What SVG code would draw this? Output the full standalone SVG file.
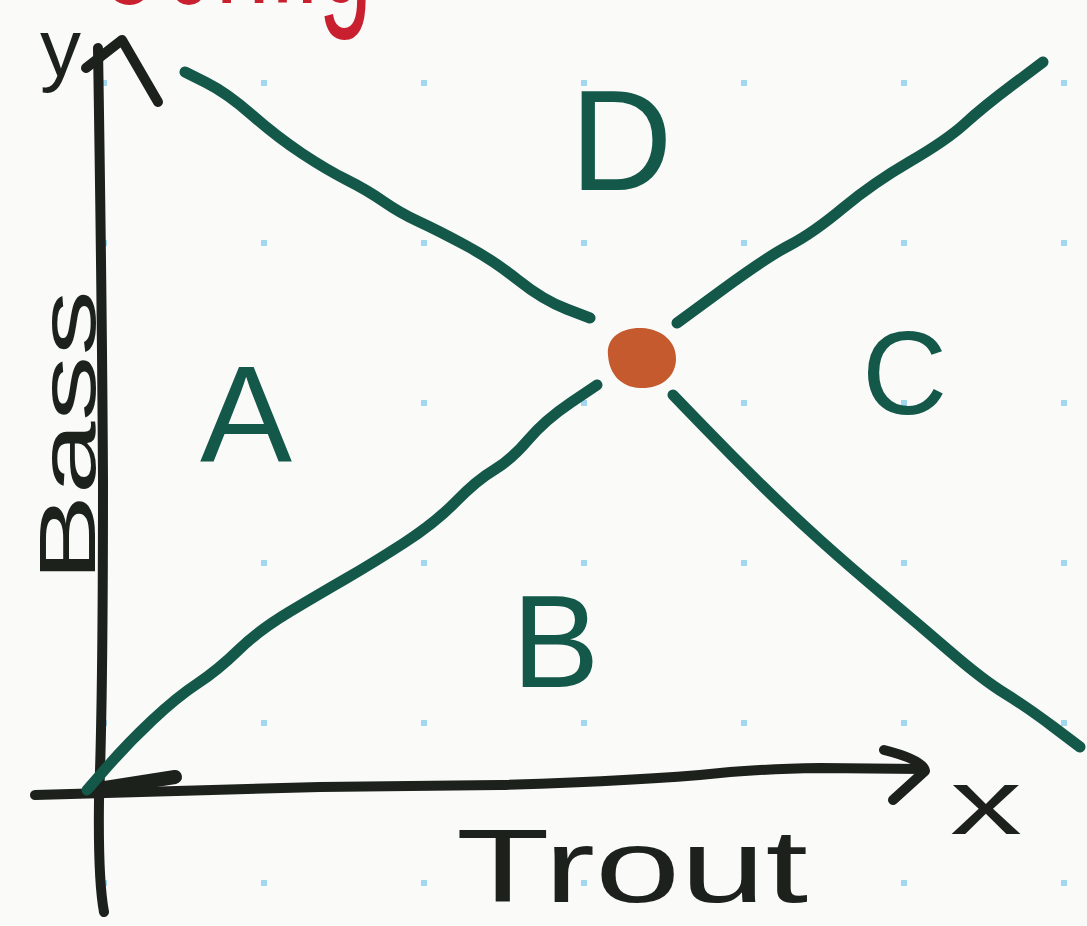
<svg xmlns="http://www.w3.org/2000/svg" width="1087" height="926" viewBox="0 0 1087 926">
<defs>
<style>
.bg{fill:#fafaf9}
.dot{fill:#a3d6ef}
.ink{fill:none;stroke:#1c211c;stroke-width:10;stroke-linecap:round;stroke-linejoin:round}
.grn{fill:none;stroke:#14584a;stroke-width:11;stroke-linecap:round;stroke-linejoin:round}
.lbl{font-family:"Liberation Sans",Arial,sans-serif;fill:#14584a}
.blk{font-family:"Liberation Sans",Arial,sans-serif;fill:#1c211c}
.red{font-family:"Liberation Sans",Arial,sans-serif;fill:#c8202f}
</style>
<pattern id="grid" x="0" y="0" width="160" height="160" patternUnits="userSpaceOnUse">
<rect x="101" y="80" width="6" height="6" class="dot"/>
</pattern>
</defs>
<rect class="bg" x="0" y="0" width="1087" height="926"/>
<rect x="0" y="0" width="1087" height="926" fill="url(#grid)"/>

<g id="title">
<text class="red" x="92" y="3" font-size="180" textLength="280" lengthAdjust="spacingAndGlyphs">Config</text>
</g>

<g id="axes">
<path class="ink" d="M98,48 Q102,300 103,480 Q103,700 99,800 Q98,880 104,912"/>
<path class="ink" d="M86,68 L122,40 L158,102"/>
<path class="ink" d="M35,795 L320,787 L500,785 Q640,781 720,773 Q760,769 820,768 L922,769"/>
<path class="ink" d="M884,750 Q924,760 925,771 L893,800"/>
<path class="ink" style="stroke-width:14" d="M92,790 L175,777"/>
</g>

<g id="connectors">
<path class="grn" d="M185,72 L206,82.5 Q227,93 252,115 Q277,137 302,153.5 Q327,170 347,180 Q367,190 383.5,201.5 Q400,213 418.5,221.5 Q437,230 465,245 Q493,260 518,280 Q543,300 566.5,309 L590,318"/>
<path class="grn" d="M677,323 L722,290 Q767,257 790,245 Q813,233 843,208 Q873,183 910,161.5 Q947,140 965,123.5 Q983,107 1013,84.5 L1043,62"/>
<path class="grn" d="M87,790 L107.5,766.5 Q128,743 152.5,720 Q177,697 197.5,683.5 Q218,670 238.5,650 Q259,630 290,611.5 Q321,593 347,578 Q373,563 404,543 Q435,523 456,501.5 Q477,480 494,470 Q511,460 528,440 Q545,420 571,402.5 L597,385"/>
<path class="grn" d="M673,395 L703,426 Q733,457 761.5,485 Q790,513 820,540 Q850,567 883.5,595 Q917,623 950,651.5 Q983,680 1005,693.5 Q1027,707 1053.5,727 L1080,747"/>
</g>

<g id="point">
<path fill="#c65a2f" d="M608,355 C606,336 624,327 642,328 C662,329 677,342 676,360 C675,378 660,389 640,388 C620,387 609,373 608,355 Z"/>
</g>

<g id="region-D"><text class="lbl" x="570" y="190" font-size="142">D</text></g>
<g id="region-A"><text class="lbl" x="200" y="462" font-size="138">A</text></g>
<g id="region-B"><text class="lbl" x="512" y="687" font-size="131">B</text></g>
<g id="region-C"><text class="lbl" x="862" y="414" font-size="118">C</text></g>

<g id="axis-labels">
<text class="blk" x="40" y="76" font-size="82">y</text>
<text class="blk" x="950" y="834" font-size="92" textLength="72" lengthAdjust="spacingAndGlyphs">x</text>
<text class="blk" x="456" y="902" font-size="104" textLength="352" lengthAdjust="spacingAndGlyphs">Trout</text>
<text class="blk" transform="translate(95,582) rotate(-90)" x="0" y="0" font-size="80" textLength="292" lengthAdjust="spacingAndGlyphs">Bass</text>
</g>
</svg>
